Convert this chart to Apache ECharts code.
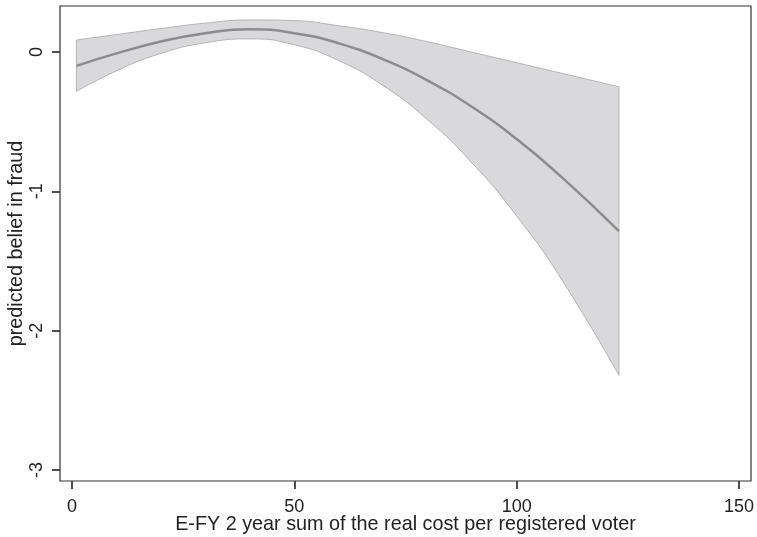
<!DOCTYPE html>
<html>
<head>
<meta charset="utf-8">
<script src="https://cdn.jsdelivr.net/npm/echarts@6/dist/echarts.min.js"></script>
<style>html,body{margin:0;padding:0;background:#fff;}#c{width:757px;height:537px;}</style>
</head>
<body>
<div id="c"></div>
<script>
var xs       = [1, 10, 20, 30, 40, 50, 60, 70, 80, 90, 100, 110, 123];
var fitLine  = [-0.10, -0.01, 0.075, 0.135, 0.163, 0.135, 0.062, -0.053, -0.205, -0.395, -0.625, -0.895, -1.285];
var upperCI  = [0.086, 0.125, 0.168, 0.207, 0.23, 0.225, 0.188, 0.138, 0.073, -0.002, -0.077, -0.152, -0.25];
var lowerCI  = [-0.283, -0.135, -0.01, 0.066, 0.094, 0.052, -0.062, -0.242, -0.487, -0.797, -1.177, -1.627, -2.32];
var xTicks   = [0, 50, 100, 150];
var yTicks   = [-3, -2, -1, 0];
var xTitle   = 'E-FY 2 year sum of the real cost per registered voter';
var yTitle   = 'predicted belief in fraud';

function pairs(a, b) { return a.map(function (v, i) { return [v, b[i]]; }); }
var n = xs.length - 1;
var yMin = -3.079, yMax = 0.33;

var font = 'Liberation Sans, Arial, sans-serif';
var chart = echarts.init(document.getElementById('c'), null, {renderer: 'canvas'});
chart.setOption({
  animation: false,
  backgroundColor: '#fff',
  grid: {left: 60, right: 6, top: 6, bottom: 56, show: true, borderColor: '#333', borderWidth: 1.2,
         backgroundColor: 'transparent', z: 10, containLabel: false, outerBoundsMode: 'none'},
  xAxis: {
    type: 'value', min: -2.7, max: 152.7,
    axisLine: {show: false, onZero: false},
    splitLine: {show: false},
    axisTick: {show: true, customValues: xTicks, length: 8, lineStyle: {color: '#222', width: 1.6}},
    axisLabel: {customValues: xTicks, color: '#222', fontSize: 18, fontFamily: font, margin: 17},
    name: xTitle, nameLocation: 'middle', nameGap: 34, nameMoveOverlap: false,
    nameTextStyle: {color: '#222', fontSize: 19.8, fontFamily: font}
  },
  yAxis: {
    type: 'value', min: yMin, max: yMax,
    axisLine: {show: false, onZero: false},
    splitLine: {show: false},
    axisTick: {show: true, customValues: yTicks, length: 8, lineStyle: {color: '#222', width: 1.6}},
    axisLabel: {customValues: yTicks, rotate: 90, color: '#222', fontSize: 18, fontFamily: font, margin: 14},
    name: yTitle, nameLocation: 'middle', nameGap: 33, nameRotate: 90, nameMoveOverlap: false,
    nameTextStyle: {color: '#222', fontSize: 19.8, fontFamily: font}
  },
  series: [
    {type: 'line', data: pairs(xs, upperCI), smooth: true, symbol: 'none',
     lineStyle: {color: '#b4b4b4', width: 1}, areaStyle: {color: '#d9d9db', opacity: 1, origin: 'start'}, z: 1},
    {type: 'line', data: pairs(xs, lowerCI), smooth: true, symbol: 'none',
     lineStyle: {color: '#b4b4b4', width: 1}, areaStyle: {color: '#ffffff', opacity: 1, origin: 'start'}, z: 2},
    {type: 'line', data: [[xs[0], yMin], [xs[0], lowerCI[0] - 0.01]], symbol: 'none',
     lineStyle: {color: '#ffffff', width: 3}, z: 2},
    {type: 'line', data: [[xs[n], yMin], [xs[n], lowerCI[n] - 0.01]], symbol: 'none',
     lineStyle: {color: '#ffffff', width: 3}, z: 2},
    {type: 'line', data: [[xs[0], lowerCI[0]], [xs[0], upperCI[0]]], symbol: 'none',
     lineStyle: {color: '#b4b4b4', width: 1}, z: 3},
    {type: 'line', data: [[xs[n], lowerCI[n]], [xs[n], upperCI[n]]], symbol: 'none',
     lineStyle: {color: '#b4b4b4', width: 1}, z: 3},
    {type: 'line', data: pairs(xs, fitLine), smooth: true, symbol: 'none',
     lineStyle: {color: '#8c8c8c', width: 2.5}, z: 4}
  ]
});
</script>
</body>
</html>
